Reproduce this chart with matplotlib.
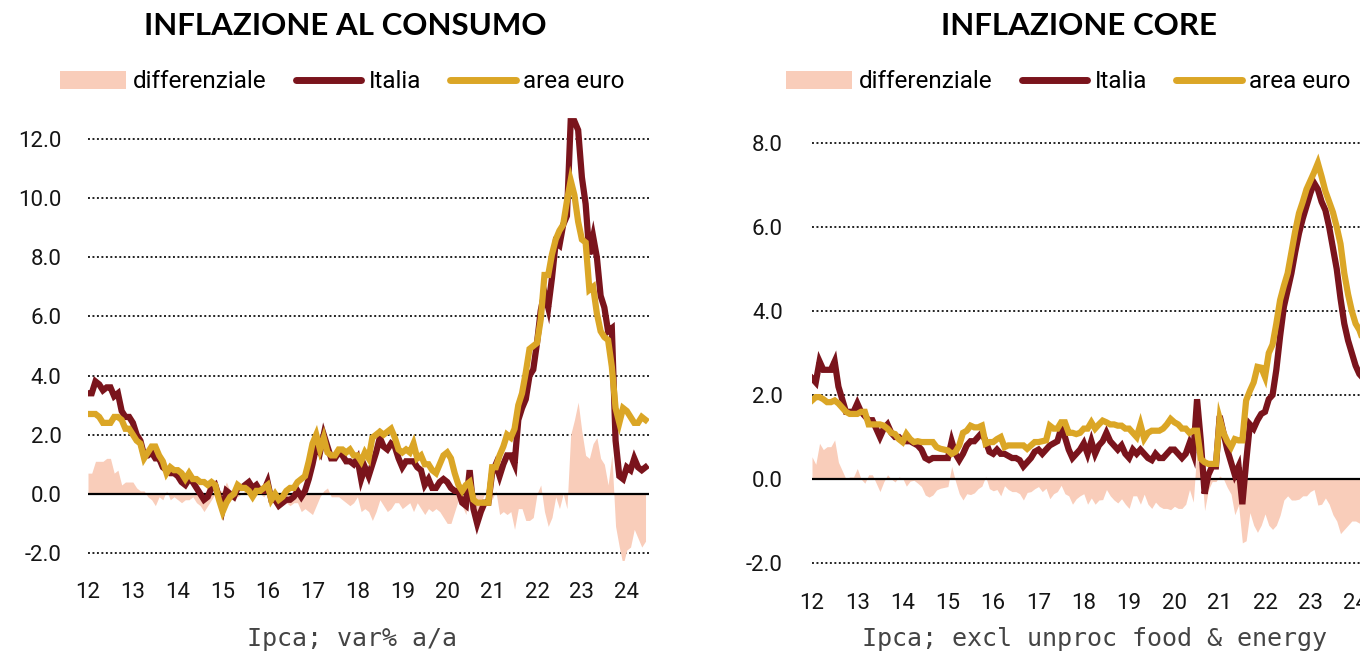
#importing necessary packages
import numpy as np
import matplotlib
matplotlib.use('Agg')
import matplotlib.pyplot as plt
from matplotlib.patches import Patch
from matplotlib.lines import Line2D

# monthly data, Jan 2012 - Jun 2024 (yoy %)
year_labels = ['12', '13', '14', '15', '16', '17', '18', '19', '20', '21', '22', '23', '24']

# Ipca headline
ita_headline = [
    3.4, 3.4, 3.8, 3.7, 3.5, 3.6, 3.6, 3.3, 3.4, 2.8, 2.6, 2.6,
    2.4, 2.0, 1.8, 1.3, 1.3, 1.4, 1.2, 1.2, 0.9, 0.8, 0.7, 0.7,
    0.6, 0.4, 0.3, 0.5, 0.4, 0.2, 0.0, -0.2, -0.1, 0.2, 0.3, -0.1,
    -0.5, 0.1, 0.0, -0.1, 0.2, 0.2, 0.3, 0.4, 0.2, 0.3, 0.1, 0.1,
    0.4, -0.2, -0.2, -0.4, -0.3, -0.2, -0.2, -0.1, 0.1, -0.1, 0.1, 0.5,
    1.0, 1.6, 1.4, 2.0, 1.6, 1.2, 1.2, 1.4, 1.3, 1.1, 1.1, 1.0,
    1.2, 0.5, 0.9, 0.6, 1.0, 1.4, 1.9, 1.6, 1.5, 1.7, 1.6, 1.2,
    0.9, 1.1, 1.1, 1.1, 0.9, 0.8, 0.3, 0.5, 0.2, 0.2, 0.4, 0.5,
    0.4, 0.2, 0.1, 0.1, -0.3, -0.4, 0.8, -0.5, -1.0, -0.6, -0.3, -0.3,
    0.7, 1.0, 0.6, 1.0, 1.3, 1.3, 1.0, 2.5, 2.9, 3.2, 4.0, 4.2,
    5.1, 6.2, 6.8, 6.3, 7.3, 8.5, 8.4, 9.1, 9.4, 12.6, 12.6, 12.3,
    10.7, 9.8, 8.1, 8.7, 8.0, 6.7, 6.3, 5.5, 5.6, 1.8, 0.6, 0.5,
    0.9, 0.8, 1.2, 0.9, 0.8, 0.9,
]
ea_headline = [
    2.7, 2.7, 2.7, 2.6, 2.4, 2.4, 2.4, 2.6, 2.6, 2.5, 2.2, 2.2,
    2.0, 1.8, 1.7, 1.2, 1.4, 1.6, 1.6, 1.3, 1.1, 0.7, 0.9, 0.8,
    0.8, 0.7, 0.5, 0.7, 0.5, 0.5, 0.4, 0.4, 0.3, 0.4, 0.3, -0.2,
    -0.6, -0.3, -0.1, 0.0, 0.3, 0.2, 0.2, 0.1, -0.1, 0.1, 0.1, 0.2,
    0.3, -0.2, 0.0, -0.2, -0.1, 0.1, 0.2, 0.2, 0.4, 0.5, 0.6, 1.1,
    1.7, 2.0, 1.5, 1.9, 1.4, 1.3, 1.3, 1.5, 1.5, 1.4, 1.5, 1.3,
    1.3, 1.1, 1.4, 1.2, 1.9, 2.0, 2.1, 2.0, 2.1, 2.2, 1.9, 1.5,
    1.4, 1.5, 1.4, 1.7, 1.2, 1.3, 1.0, 1.0, 0.8, 0.7, 1.0, 1.3,
    1.4, 1.2, 0.7, 0.3, 0.1, 0.3, 0.4, -0.2, -0.3, -0.3, -0.3, -0.3,
    0.9, 0.9, 1.3, 1.6, 2.0, 1.9, 2.2, 3.0, 3.4, 4.1, 4.9, 5.0,
    5.1, 5.9, 7.4, 7.4, 8.1, 8.6, 8.9, 9.1, 9.9, 10.6, 10.1, 9.2,
    8.6, 8.5, 6.9, 7.0, 6.1, 5.5, 5.3, 5.2, 4.3, 2.9, 2.4, 2.9,
    2.8, 2.6, 2.4, 2.4, 2.6, 2.5,
]

# Ipca excl unprocessed food & energy
ita_core = [
    2.4, 2.3, 2.8, 2.6, 2.6, 2.6, 2.8, 2.2, 1.9, 1.6, 1.6, 1.6,
    1.8, 1.6, 1.5, 1.4, 1.4, 1.2, 1.0, 1.2, 1.3, 1.1, 1.0, 1.0,
    0.9, 0.9, 0.9, 0.85, 0.8, 0.7, 0.5, 0.45, 0.5, 0.5, 0.5, 0.5,
    0.5, 0.9, 0.6, 0.45, 0.6, 0.8, 0.9, 0.9, 1.0, 1.1, 0.9, 0.65,
    0.6, 0.7, 0.6, 0.6, 0.55, 0.5, 0.5, 0.45, 0.3, 0.4, 0.5, 0.65,
    0.7, 0.6, 0.7, 0.8, 0.85, 0.9, 1.2, 1.0, 0.7, 0.5, 0.6, 0.7,
    0.85, 0.6, 0.9, 0.6, 0.8, 0.9, 1.1, 0.9, 0.8, 0.7, 0.8, 0.6,
    0.5, 0.7, 0.6, 0.7, 0.6, 0.5, 0.45, 0.6, 0.5, 0.5, 0.6, 0.7,
    0.7, 0.6, 0.5, 0.6, 0.85, 0.6, 1.9, 0.9, -0.35, 0.1, 0.3, 0.3,
    1.5, 1.1, 0.7, 0.4, 0.1, 0.3, -0.6, 0.4, 1.3, 1.2, 1.4, 1.55,
    1.6, 1.9, 2.0, 2.6, 3.4, 4.1, 4.5, 4.9, 5.4, 5.85, 6.2, 6.5,
    6.8, 7.05, 6.9, 6.6, 6.4, 6.0, 5.5, 5.0, 4.3, 3.7, 3.3, 3.0,
    2.7, 2.5, 2.4, 2.3, 2.2, 2.1,
]
ea_core = [
    1.87, 1.95, 1.95, 1.9, 1.83, 1.83, 1.87, 1.8, 1.7, 1.6, 1.55, 1.55,
    1.55, 1.6, 1.6, 1.3, 1.3, 1.3, 1.3, 1.27, 1.2, 1.1, 1.07, 0.95,
    0.88, 1.07, 0.95, 0.88, 0.9, 0.88, 0.88, 0.88, 0.88, 0.76, 0.72, 0.7,
    0.68, 0.6, 0.65, 0.8, 1.1, 1.15, 1.27, 1.23, 1.23, 1.27, 0.84, 0.88,
    0.88, 0.95, 1.0, 0.76, 0.8, 0.8, 0.8, 0.8, 0.8, 0.72, 0.8, 0.88,
    0.88, 0.9, 0.92, 1.27, 1.2, 1.2, 1.35, 1.35, 1.1, 1.1, 1.07, 1.1,
    1.2, 1.2, 1.35, 1.2, 1.3, 1.39, 1.35, 1.3, 1.3, 1.27, 1.27, 1.2,
    1.2, 1.1, 1.0, 1.3, 0.96, 1.1, 1.15, 1.15, 1.15, 1.2, 1.3, 1.43,
    1.35, 1.3, 1.2, 1.2, 1.1, 1.15, 1.15, 0.48, 0.4, 0.36, 0.36, 0.36,
    1.43, 1.1, 0.9, 0.76, 0.95, 0.92, 0.92, 1.87, 2.1, 2.3, 2.67, 2.65,
    2.43, 3.0, 3.2, 3.7, 4.26, 4.6, 4.9, 5.4, 5.9, 6.33, 6.6, 6.9,
    7.1, 7.3, 7.52, 7.2, 6.85, 6.6, 6.35, 6.0, 5.6, 4.9, 4.4, 4.0,
    3.7, 3.55, 3.3, 3.1, 3.0, 2.9,
]

# colours
col_ita = '#7A141C'
col_ea = '#DBA626'
col_diff = '#F9CDBA'

W, H = 1360, 656
fig = plt.figure(figsize=(W / 100, H / 100), dpi=100)


def px_rect(x0, x1, y_top, y_bottom):
    # pixel box -> figure fraction
    return [x0 / W, 1 - y_bottom / H, (x1 - x0) / W, (y_bottom - y_top) / H]


def draw_panel(rect, ylim, yticks, ita, ea, title, title_x, legend_x, note, note_x, ypad, xpad):
    ax = fig.add_axes(rect)
    x = np.arange(len(ita))
    diff = np.array(ita) - np.array(ea)

    # dotted grid + zero line
    for yt in yticks:
        if yt == 0:
            ax.axhline(0, color='black', linewidth=1.6, zorder=2)
        else:
            ax.axhline(yt, color='#222222', linewidth=1.4, linestyle=(0, (1, 1.3)), zorder=0)

    ax.fill_between(x, diff, 0, color=col_diff, linewidth=0, zorder=1)
    ax.plot(x, ita, color=col_ita, linewidth=4.5, zorder=3, solid_joinstyle='miter')
    ax.plot(x, ea, color=col_ea, linewidth=4.5, zorder=4, solid_joinstyle='miter')

    ax.set_xlim(0, 150)
    ax.set_ylim(*ylim)
    ax.set_xticks(np.arange(0, 12 * len(year_labels), 12))
    ax.set_xticklabels(year_labels)
    ax.set_yticks(yticks)
    ax.set_yticklabels(['%.1f' % v for v in yticks])
    for s in ax.spines.values():
        s.set_visible(False)
    ax.tick_params(axis='both', length=0, labelsize=16, labelcolor='#151515')
    ax.tick_params(axis='y', pad=ypad)
    ax.tick_params(axis='x', pad=xpad)
    for lab in ax.get_xticklabels() + ax.get_yticklabels():
        lab.set_fontfamily('Roboto')

    fig.text(title_x / W, 1 - 26 / H, title, ha='center', va='center',
             fontsize=22.5, fontweight='bold', family='Lato')
    fig.text(note_x / W, 1 - 639 / H, note, ha='center', va='center',
             fontsize=18, family='DejaVu Sans Mono', color='#444444')

    handles = [Patch(facecolor=col_diff, edgecolor='none'),
               Line2D([], [], color=col_ita, linewidth=5, solid_capstyle='round'),
               Line2D([], [], color=col_ea, linewidth=5, solid_capstyle='round')]
    ax.legend(handles, ['differenziale', 'Italia', 'area euro'], ncol=3, frameon=False,
              loc='center left', bbox_to_anchor=(legend_x / W, 1 - 82 / H),
              bbox_transform=fig.transFigure, borderpad=0, borderaxespad=0,
              handlelength=2.7, handleheight=0.8, handletextpad=0.3, columnspacing=1.2,
              prop={'family': 'Roboto', 'size': 17.5})
    return ax


# left panel
draw_panel(px_rect(88, 88 + 150 / 12 * 44.9, 115, 560), (-2.237, 12.81),
           [-2, 0, 2, 4, 6, 8, 10, 12], ita_headline, ea_headline,
           'INFLAZIONE AL CONSUMO', 345, 60, 'Ipca; var% a/a', 352, 19, 16)

# right panel (runs past the right edge, as in the source)
draw_panel(px_rect(812, 812 + 150 / 12 * 45.3, 120, 572), (-2.214, 8.548),
           [-2, 0, 2, 4, 6, 8], ita_core, ea_core,
           'INFLAZIONE CORE', 1079, 786, 'Ipca; excl unproc food & energy', 1094, 21, 15)

fig.savefig('out.png', dpi=100)
